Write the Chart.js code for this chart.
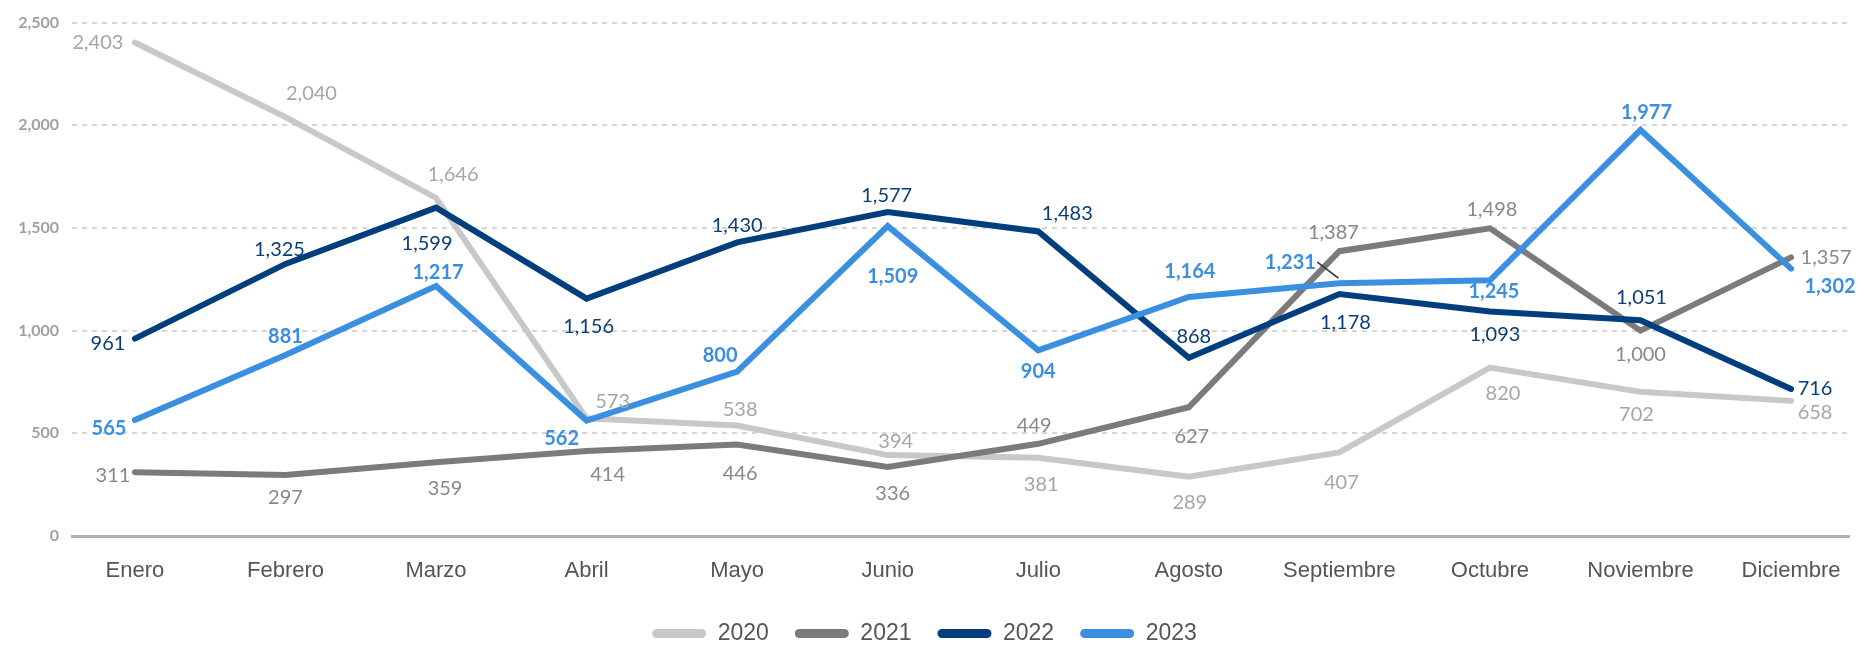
<!DOCTYPE html>
<html>
<head>
<meta charset="utf-8">
<script src="https://cdn.jsdelivr.net/npm/chart.js@4.4.1/dist/chart.umd.min.js"></script>
<style>
  html, body { margin: 0; padding: 0; background: #ffffff; }
  #wrap { width: 1869px; height: 647px; }
</style>
</head>
<body>
<div id="wrap"><canvas id="c" width="1869" height="647"></canvas></div>
<script>
// ---- Data ----
const months = ["Enero","Febrero","Marzo","Abril","Mayo","Junio","Julio","Agosto","Septiembre","Octubre","Noviembre","Diciembre"];
const years = ["2020","2021","2022","2023"];
const values2020 = [2403, 2040, 1646, 573, 538, 394, 381, 289, 407, 820, 702, 658];
const values2021 = [311, 297, 359, 414, 446, 336, 449, 627, 1387, 1498, 1000, 1357];
const values2022 = [961, 1325, 1599, 1156, 1430, 1577, 1483, 868, 1178, 1093, 1051, 716];
const values2023 = [565, 881, 1217, 562, 800, 1509, 904, 1164, 1231, 1245, 1977, 1302];
const yTicks = [0, 500, 1000, 1500, 2000, 2500];

// ---- Label placement (offsets from each point, in px) ----
const labelOffsets = [
  [[-37,0],[26,-24],[17,-23],[26,-17],[3,-16],[8,-14],[3,27],[1,26],[2,30],[13,26],[-4,23],[24,12]],
  [[-22,3],[0,23],[9,26],[21,24],[3,29],[5,27],[-4,-18],[3,29],[-6,-19],[2,-19],[0,24],[35,0]],
  [[-27,5],[-6,-14],[-9,36],[2,28],[0,-17],[-1,-17],[29,-18],[5,-21],[6,28],[5,23],[1,-23],[24,0]],
  [[-26,9],[0,-19],[2,-14],[-25,18],[-17,-16],[5,50],[0,21],[1,-25],[-49,-21],[4,11],[6,-17],[39,18]]
];

const lineColors = ["#c8c8c8", "#7b7b7b", "#003e7e", "#3b8fe0"];
const labelColors = ["#a6a6a6", "#888888", "#0b3d76", "#3b8fe0"];
const labelWeights = ["normal", "normal", "normal", "bold"];

const allValues = [values2020, values2021, values2022, values2023];
const fmt = v => v.toLocaleString('en-US');

const datasets = years.map((y, k) => ({
  label: y,
  data: allValues[k].map((v, i) => ({ x: i, y: v })),
  borderColor: lineColors[k],
  backgroundColor: lineColors[k],
  borderWidth: 6,
  borderCapStyle: 'round',
  borderJoinStyle: 'miter',
  pointRadius: 0,
  pointHoverRadius: 0,
  tension: 0,
  fill: false,
  order: 4 - k
}));

const dataLabelPlugin = {
  id: 'dataLabels',
  afterDatasetsDraw(chart) {
    const ctx = chart.ctx;
    ctx.save();
    chart.data.datasets.forEach((ds, k) => {
      const meta = chart.getDatasetMeta(k);
      ctx.font = labelWeights[k] + ' 20px Lato';
      ctx.fillStyle = labelColors[k];
      ctx.textAlign = 'center';
      ctx.textBaseline = 'middle';
      meta.data.forEach((el, i) => {
        const off = labelOffsets[k][i];
        ctx.fillText(fmt(allValues[k][i]), el.x + off[0], el.y + off[1]);
      });
    });
    // leader line for 2023 Septiembre label
    const el = chart.getDatasetMeta(3).data[8];
    ctx.strokeStyle = '#333333';
    ctx.lineWidth = 1.6;
    ctx.beginPath();
    ctx.moveTo(el.x - 22, el.y - 21);
    ctx.lineTo(el.x - 1, el.y - 5);
    ctx.stroke();
    ctx.restore();
  }
};

new Chart(document.getElementById('c'), {
  type: 'line',
  data: { datasets },
  options: {
    responsive: false,
    devicePixelRatio: 1,
    animation: false,
    layout: { padding: { top: 15, right: 20, bottom: -8, left: 0 } },
    plugins: {
      tooltip: { enabled: false },
      legend: {
        position: 'bottom',
        labels: {
          boxWidth: 54,
          boxHeight: 9,
          useBorderRadius: true,
          borderRadius: 4.5,
          padding: 26,
          color: '#555555',
          font: { family: 'Liberation Sans', size: 23 },
          generateLabels: (chart) => Chart.defaults.plugins.legend.labels.generateLabels(chart)
            .map(it => Object.assign({}, it, { lineWidth: 0 }))
            .sort((a, b) => a.datasetIndex - b.datasetIndex)
        }
      }
    },
    scales: {
      x: {
        type: 'linear',
        min: -0.418,
        max: 11.385,
        grid: { display: false, drawTicks: false },
        border: { display: true, color: '#b0b0b0', width: 3 },
        ticks: {
          stepSize: 1,
          includeBounds: false,
          autoSkip: false,
          maxRotation: 0,
          padding: 22,
          color: '#555555',
          font: { family: 'Liberation Sans', size: 22 },
          callback: v => (Number.isInteger(v) && months[v] !== undefined) ? months[v] : ''
        },
        afterFit: s => { s.height = 60; }
      },
      y: {
        min: 0,
        max: 2500,
        grid: {
          drawTicks: false,
          lineWidth: 2,
          color: c => (c.tick && c.tick.value === 0) ? 'rgba(0,0,0,0)' : '#d6d6d6'
        },
        border: { display: false, dash: [5, 5] },
        afterBuildTicks: s => { s.ticks = yTicks.map(v => ({ value: v })); },
        ticks: {
          padding: 13,
          color: '#a0a0a0',
          font: { family: 'Lato', size: 16, weight: 'bold' },
          callback: v => fmt(v)
        },
        afterFit: s => { s.width = 72; }
      }
    }
  },
  plugins: [dataLabelPlugin]
});
</script>
</body>
</html>
